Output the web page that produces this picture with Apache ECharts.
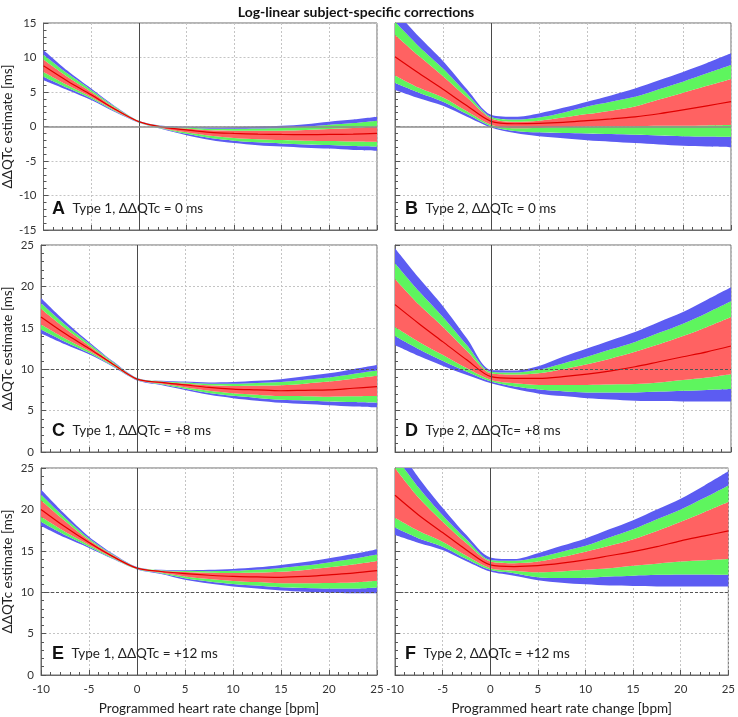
<!DOCTYPE html>
<html><head><meta charset="utf-8">
<script src="https://cdn.jsdelivr.net/npm/echarts@6/dist/echarts.min.js"></script>
<style>html,body{margin:0;padding:0;background:#fff}#c{width:738px;height:717px}</style>
</head><body><div id="c"></div>
<script>
// ---- data ----
const xs = [-10, -7.5, -5, -2.5, 0, 2.5, 5, 7.5, 10, 12.5, 15, 17.5, 20, 22.5, 25];
const xTicks = [-10, -5, 0, 5, 10, 15, 20, 25];
const titleText = 'Log-linear subject-specific corrections';
const yAxisTitle = 'ΔΔQTc estimate [ms]';
const xAxisTitle = 'Programmed heart rate change [bpm]';
const panelLetters = ['A', 'B', 'C', 'D', 'E', 'F'];
const panelTexts = ['Type 1, ΔΔQTc = 0 ms', 'Type 2, ΔΔQTc = 0 ms', 'Type 1, ΔΔQTc = +8 ms',
  'Type 2, ΔΔQTc= +8 ms', 'Type 1, ΔΔQTc = +12 ms', 'Type 2, ΔΔQTc = +12 ms'];

// Panel A
const aCenter  = [8.8, 6.6, 4.6, 2.5, 0.7, -0.1, -0.5, -0.85, -1.0, -1.1, -1.15, -1.17, -1.15, -1.1, -1.0];
const aBlueHi  = [11.1, 8.1, 5.5, 2.95, 0.85, 0.1, -0.05, -0.15, -0.1, 0.0, 0.1, 0.33, 0.7, 1.0, 1.4];
const aGreenHi = [10.4, 7.7, 5.3, 2.85, 0.8, 0.05, -0.16, -0.32, -0.33, -0.28, -0.21, -0.05, 0.24, 0.5, 0.85];
const aRedHi   = [9.7, 7.2, 5.0, 2.7, 0.76, -0.02, -0.3, -0.56, -0.6, -0.62, -0.6, -0.5, -0.35, -0.2, 0.05];
const aRedLo   = [7.9, 6.0, 4.27, 2.32, 0.64, -0.24, -0.85, -1.35, -1.65, -1.85, -1.97, -2.06, -2.1, -2.17, -2.2];
const aGreenLo = [7.2, 5.6, 4.04, 2.2, 0.59, -0.33, -1.06, -1.68, -2.05, -2.3, -2.46, -2.6, -2.69, -2.83, -2.9];
const aBlueLo  = [6.7, 5.3, 3.85, 2.1, 0.55, -0.4, -1.25, -1.95, -2.4, -2.7, -2.9, -3.07, -3.2, -3.4, -3.5];
// Panel B
const bCenter  = [10.1, 7.7, 5.4, 3.0, 0.75, 0.4, 0.45, 0.6, 0.85, 1.1, 1.4, 1.85, 2.4, 3.0, 3.6];
const bBlueHi  = [16.8, 13.0, 9.5, 5.4, 1.7, 1.4, 1.9, 2.7, 3.6, 4.5, 5.5, 6.7, 7.9, 9.2, 10.6];
const bGreenHi = [15.2, 11.6, 8.4, 4.8, 1.4, 1.0, 1.3, 2.0, 2.9, 3.6, 4.3, 5.4, 6.5, 7.7, 8.9];
const bRedHi   = [13.3, 10.2, 7.3, 4.2, 1.2, 0.7, 0.85, 1.3, 1.8, 2.3, 2.9, 3.9, 4.9, 5.9, 6.9];
const bRedLo   = [7.4, 5.6, 4.2, 2.2, 0.25, -0.25, -0.2, -0.1, 0.0, 0.05, 0.05, 0.1, 0.1, 0.15, 0.2];
const bGreenLo = [6.3, 4.9, 3.6, 1.8, 0.05, -0.65, -0.85, -0.95, -1.0, -1.1, -1.2, -1.3, -1.4, -1.45, -1.5];
const bBlueLo  = [5.3, 4.1, 3.0, 1.4, -0.15, -0.95, -1.4, -1.7, -2.0, -2.2, -2.4, -2.6, -2.8, -2.9, -3.0];
// Panel C
const cCenter  = [16.3, 14.3, 12.5, 10.6, 8.8, 8.4, 8.1, 7.8, 7.6, 7.5, 7.4, 7.45, 7.5, 7.7, 7.9];
const cBlueHi  = [18.6, 15.8, 13.3, 10.95, 8.95, 8.6, 8.5, 8.4, 8.45, 8.6, 8.8, 9.15, 9.5, 10.0, 10.5];
const cGreenHi = [18.0, 15.4, 13.1, 10.86, 8.91, 8.55, 8.4, 8.25, 8.24, 8.33, 8.45, 8.73, 9.0, 9.43, 9.85];
const cRedHi   = [17.3, 14.95, 12.84, 10.75, 8.86, 8.49, 8.27, 8.06, 7.98, 8.0, 8.05, 8.25, 8.5, 8.85, 9.2];
const cRedLo   = [15.4, 13.72, 12.19, 10.47, 8.73, 8.27, 7.83, 7.4, 7.1, 6.92, 6.75, 6.73, 6.67, 6.72, 6.75];
const cGreenLo = [14.8, 13.33, 11.98, 10.38, 8.69, 8.18, 7.65, 7.13, 6.78, 6.53, 6.31, 6.22, 6.1, 6.03, 5.95];
const cBlueLo  = [14.3, 13.0, 11.8, 10.3, 8.65, 8.1, 7.5, 6.9, 6.5, 6.2, 5.95, 5.8, 5.65, 5.5, 5.4];
// Panel D
const dCenter  = [17.8, 15.5, 13.3, 11.1, 9.1, 8.9, 8.9, 9.1, 9.4, 9.8, 10.3, 10.9, 11.5, 12.1, 12.8];
const dBlueHi  = [24.6, 21.0, 17.6, 13.7, 9.9, 9.85, 10.4, 11.5, 12.5, 13.5, 14.5, 15.7, 16.9, 18.4, 19.9];
const dGreenHi = [22.8, 19.4, 16.3, 12.9, 9.7, 9.6, 9.95, 10.7, 11.5, 12.4, 13.3, 14.4, 15.5, 16.8, 18.2];
const dRedHi   = [20.9, 17.8, 15.1, 12.2, 9.5, 9.35, 9.5, 10.0, 10.6, 11.3, 12.1, 13.0, 14.0, 15.1, 16.3];
const dRedLo   = [15.1, 13.3, 11.7, 10.1, 8.7, 8.3, 8.1, 8.1, 8.1, 8.15, 8.2, 8.4, 8.7, 9.0, 9.4];
const dGreenLo = [14.0, 12.4, 11.0, 9.7, 8.5, 7.9, 7.55, 7.35, 7.2, 7.2, 7.2, 7.3, 7.4, 7.5, 7.6];
const dBlueLo  = [12.9, 11.6, 10.4, 9.3, 8.3, 7.6, 7.05, 6.75, 6.5, 6.35, 6.2, 6.15, 6.1, 6.1, 6.1];
// Panel E
const eCenter  = [20.0, 17.9, 16.0, 14.3, 12.9, 12.5, 12.25, 12.05, 11.9, 11.85, 11.8, 11.9, 12.1, 12.3, 12.6];
const eBlueHi  = [22.4, 19.4, 16.7, 14.65, 13.05, 12.7, 12.65, 12.7, 12.8, 13.0, 13.3, 13.65, 14.1, 14.6, 15.2];
const eGreenHi = [21.8, 19.0, 16.5, 14.56, 13.01, 12.65, 12.55, 12.54, 12.58, 12.71, 12.93, 13.21, 13.6, 14.03, 14.55];
const eRedHi   = [21.1, 18.6, 16.3, 14.46, 12.97, 12.59, 12.43, 12.34, 12.31, 12.37, 12.48, 12.69, 13.0, 13.34, 13.77];
const eRedLo   = [19.1, 17.3, 15.7, 14.17, 12.83, 12.37, 11.91, 11.6, 11.36, 11.22, 11.08, 11.07, 11.11, 11.18, 11.39];
const eGreenLo = [18.5, 16.9, 15.5, 14.08, 12.79, 12.28, 11.69, 11.3, 11.0, 10.8, 10.6, 10.51, 10.45, 10.45, 10.58];
const eBlueLo  = [18.0, 16.6, 15.35, 14.0, 12.75, 12.2, 11.5, 11.05, 10.7, 10.45, 10.2, 10.05, 9.92, 9.86, 9.86];
// Panel F
const fCenter  = [21.7, 19.3, 17.2, 15.1, 13.3, 13.1, 13.2, 13.5, 13.9, 14.4, 14.9, 15.5, 16.2, 16.8, 17.4];
const fBlueHi  = [28.0, 23.8, 20.2, 16.9, 14.2, 14.0, 14.7, 15.6, 16.5, 17.6, 18.7, 20.0, 21.3, 22.9, 24.6];
const fGreenHi = [26.5, 22.6, 19.3, 16.4, 13.9, 13.8, 14.2, 14.9, 15.6, 16.6, 17.6, 18.8, 20.0, 21.4, 22.9];
const fRedHi   = [25.0, 21.4, 18.5, 15.9, 13.7, 13.5, 13.7, 14.25, 14.9, 15.6, 16.4, 17.4, 18.5, 19.7, 20.9];
const fRedLo   = [19.0, 17.4, 16.1, 14.4, 12.9, 12.6, 12.4, 12.5, 12.7, 12.9, 13.2, 13.45, 13.7, 13.85, 14.0];
const fGreenLo = [17.8, 16.5, 15.5, 14.0, 12.7, 12.3, 11.8, 11.7, 11.75, 11.9, 12.0, 12.1, 12.15, 12.15, 12.1];
const fBlueLo  = [16.9, 15.95, 15.1, 13.75, 12.5, 12.0, 11.45, 11.15, 10.95, 10.8, 10.75, 10.7, 10.7, 10.7, 10.7];

const panels = [
  [aCenter, aRedLo, aRedHi, aGreenLo, aGreenHi, aBlueLo, aBlueHi],
  [bCenter, bRedLo, bRedHi, bGreenLo, bGreenHi, bBlueLo, bBlueHi],
  [cCenter, cRedLo, cRedHi, cGreenLo, cGreenHi, cBlueLo, cBlueHi],
  [dCenter, dRedLo, dRedHi, dGreenLo, dGreenHi, dBlueLo, dBlueHi],
  [eCenter, eRedLo, eRedHi, eGreenLo, eGreenHi, eBlueLo, eBlueHi],
  [fCenter, fRedLo, fRedHi, fGreenLo, fGreenHi, fBlueLo, fBlueHi]
];

// ---- styling / layout ----
const BLUE = '#5c5cf2', GREEN = '#5ef55e', RED = '#ff6262', LINE = '#e00000';
const FONT = 'Lato, "Open Sans", sans-serif';
const SMOOTH = 0.3;
const gridPos = [
  {left: 41, top: 23}, {left: 395, top: 23},
  {left: 41, top: 245}, {left: 395, top: 245},
  {left: 41, top: 468}, {left: 395, top: 468}
];
const grids = gridPos.map(g => ({left: g.left, top: g.top, width: 336, height: 207,
  show: true, borderColor: '#6a6a6a', borderWidth: 1, backgroundColor: '#fff'}));

const xAxes = [], yAxes = [], series = [], graphics = [];
panels.forEach((p, i) => {
  const bottom = i >= 4, left = i % 2 === 0, top = i < 2;
  xAxes.push({
    type: 'value', gridIndex: i, min: -10, max: 25, interval: 5,
    axisLine: {show: true, onZero: false, lineStyle: {color: '#6a6a6a'}},
    axisTick: {show: true, inside: true, length: 5, lineStyle: {color: '#555'}},
    minorTick: {show: true, splitNumber: 5, length: 3, lineStyle: {color: '#555'}},
    splitLine: {show: true, lineStyle: {color: '#c4c4c4', type: [2, 2], width: 1}},
    axisLabel: {show: bottom, color: '#333', fontSize: 11.5, fontFamily: FONT, margin: 8,
      formatter: v => xTicks.includes(v) ? String(v) : ''},
    name: bottom ? xAxisTitle : '', nameLocation: 'middle', nameGap: 27,
    nameTextStyle: {color: '#222', fontSize: 13.5, fontFamily: FONT}
  });
  yAxes.push({
    type: 'value', gridIndex: i, min: top ? -15 : 0, max: top ? 15 : 25, interval: 5,
    axisLine: {show: true, onZero: false, lineStyle: {color: '#6a6a6a'}},
    axisTick: {show: true, inside: true, length: 5, lineStyle: {color: '#555'}},
    minorTick: {show: true, splitNumber: 5, length: 3, lineStyle: {color: '#555'}},
    splitLine: {show: true, lineStyle: {color: '#c4c4c4', type: [2, 2], width: 1}},
    axisLabel: {show: left, color: '#333', fontSize: 11.5, fontFamily: FONT, margin: 7},
    name: left ? yAxisTitle : '', nameLocation: 'middle', nameGap: 26, nameRotate: 90,
    nameTextStyle: {color: '#222', fontSize: 13.5, fontFamily: FONT}
  });
  const [center, redLo, redHi, greenLo, greenHi, blueLo, blueHi] = p;
  const layers = [
    {vals: blueLo, base: null, color: null},
    {vals: greenLo, base: blueLo, color: BLUE},
    {vals: redLo, base: greenLo, color: GREEN},
    {vals: redHi, base: redLo, color: RED},
    {vals: greenHi, base: redHi, color: GREEN},
    {vals: blueHi, base: greenHi, color: BLUE}
  ];
  layers.forEach(L => {
    // rows are [yValue, x] so that the stacked dimension is the y value
    const data = xs.map((x, j) => [L.base ? +(L.vals[j] - L.base[j]).toFixed(4) : L.vals[j], x]);
    const s = {
      type: 'line', xAxisIndex: i, yAxisIndex: i, data, encode: {x: 1, y: 0},
      stack: 'band' + i, stackStrategy: 'all',
      smooth: SMOOTH, symbol: 'none', silent: true, animation: false, clip: true,
      lineStyle: {width: 0, opacity: 0}
    };
    if (L.color) s.areaStyle = {color: L.color, opacity: 1};
    series.push(s);
  });
  const markData = [{xAxis: 0, lineStyle: {color: '#4a4a4a', width: 1, type: 'solid'}}];
  if (top) markData.push({yAxis: 0, lineStyle: {color: '#8c8c8c', width: 1.5, type: 'solid'}});
  else markData.push({yAxis: 10, lineStyle: {color: '#555', width: 1, type: [3, 2]}});
  series.push({
    type: 'line', xAxisIndex: i, yAxisIndex: i, data: xs.map((x, j) => [x, center[j]]),
    smooth: SMOOTH, symbol: 'none', silent: true, animation: false, clip: true,
    lineStyle: {color: LINE, width: 1.2}, z: 3,
    markLine: {silent: true, symbol: 'none', label: {show: false}, animation: false, data: markData}
  });
  graphics.push({
    type: 'text', left: gridPos[i].left + (left ? 11 : 10), top: gridPos[i].top + 177,
    style: {
      text: '{b|' + panelLetters[i] + '} ' + panelTexts[i],
      rich: {b: {fontSize: 18, fontWeight: 'bold', fontFamily: 'Liberation Sans, Arial, sans-serif', fill: '#111', padding: [0, 4, 0, 0]}},
      fontSize: 13.5, fontFamily: FONT, fill: '#222'
    }, z: 10
  });
});

const chart = echarts.init(document.getElementById('c'), null, {renderer: 'canvas'});
chart.setOption({
  backgroundColor: '#fff',
  animation: false,
  title: {text: titleText, left: 351, top: 0, textAlign: 'center',
    textStyle: {fontSize: 14, fontWeight: 'bold', color: '#111', fontFamily: FONT}},
  grid: grids, xAxis: xAxes, yAxis: yAxes, series, graphic: graphics
});
</script></body></html>
